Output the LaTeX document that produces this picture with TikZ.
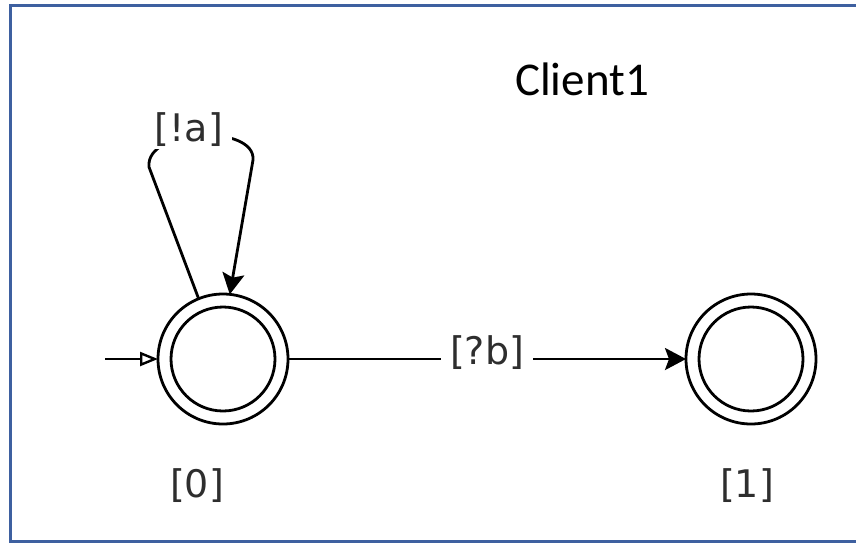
\documentclass[tikz,border=0pt]{standalone}
\usepackage{fontspec}
\setmainfont{DejaVu Sans}
\newfontfamily\titlefont{Carlito}
\usetikzlibrary{arrows.meta}
\definecolor{frameblue}{RGB}{62,96,160}
\begin{document}
\begin{tikzpicture}[x=1pt,y=-1pt,
  wire/.style={line width=2.8pt,black},
  outerring/.style={circle,draw,line width=2.8pt,minimum size=130pt,inner sep=0pt,outer sep=0pt},
  lbl/.style={font=\fontsize{38}{40}\selectfont,text=black!82,inner sep=0pt},
  coverlbl/.style={lbl,fill=white,inner xsep=9pt,inner ysep=3pt},
  tip/.style={-{Stealth[length=21pt,width=22pt,inset=4pt]}},
  inittip/.style={-{Triangle[open,length=18pt,width=14pt,line width=2.4pt]}}
]
\useasboundingbox (0,0) rectangle (856,542);
\fill[white] (0,0) rectangle (856,542);
% frame (open on the right, as in the reference)
\draw[frameblue,line width=3pt] (860,5.5) -- (10.5,5.5) -- (10.5,541) -- (860,541);

% title
\node[font=\titlefont\fontsize{47}{50}\selectfont,anchor=base,inner sep=0pt] (title) at (582,95) {Client1};

% states
\node[outerring] (s0) at (223,359) {};
\draw[wire] (s0.center) circle (52);
\node[outerring] (s1) at (751,359) {};
\draw[wire] (s1.center) circle (52);

% state names
\node[lbl,anchor=base] (n0) at (197,497) {[0]};
\node[lbl,anchor=base] (n1) at (747,497) {[1]};

% initial arrow
\coordinate (init) at (105,359);
\draw[wire,inittip] (init) -- (s0.west);

% self loop on state 0
\coordinate (la) at (149,167);
\coordinate (ra) at (253,160);
\draw[wire,tip] (s0.112) -- (la) .. controls (145,128) and (256,124) .. (ra) -- (s0.84);
\node[coverlbl,anchor=base] (loopl) at (189,141) {[!a]};

% transition 0 -> 1
\draw[wire,tip] (s0) -- node[coverlbl,yshift=6pt] (tl) {[?b]} (s1);
\end{tikzpicture}
\end{document}
